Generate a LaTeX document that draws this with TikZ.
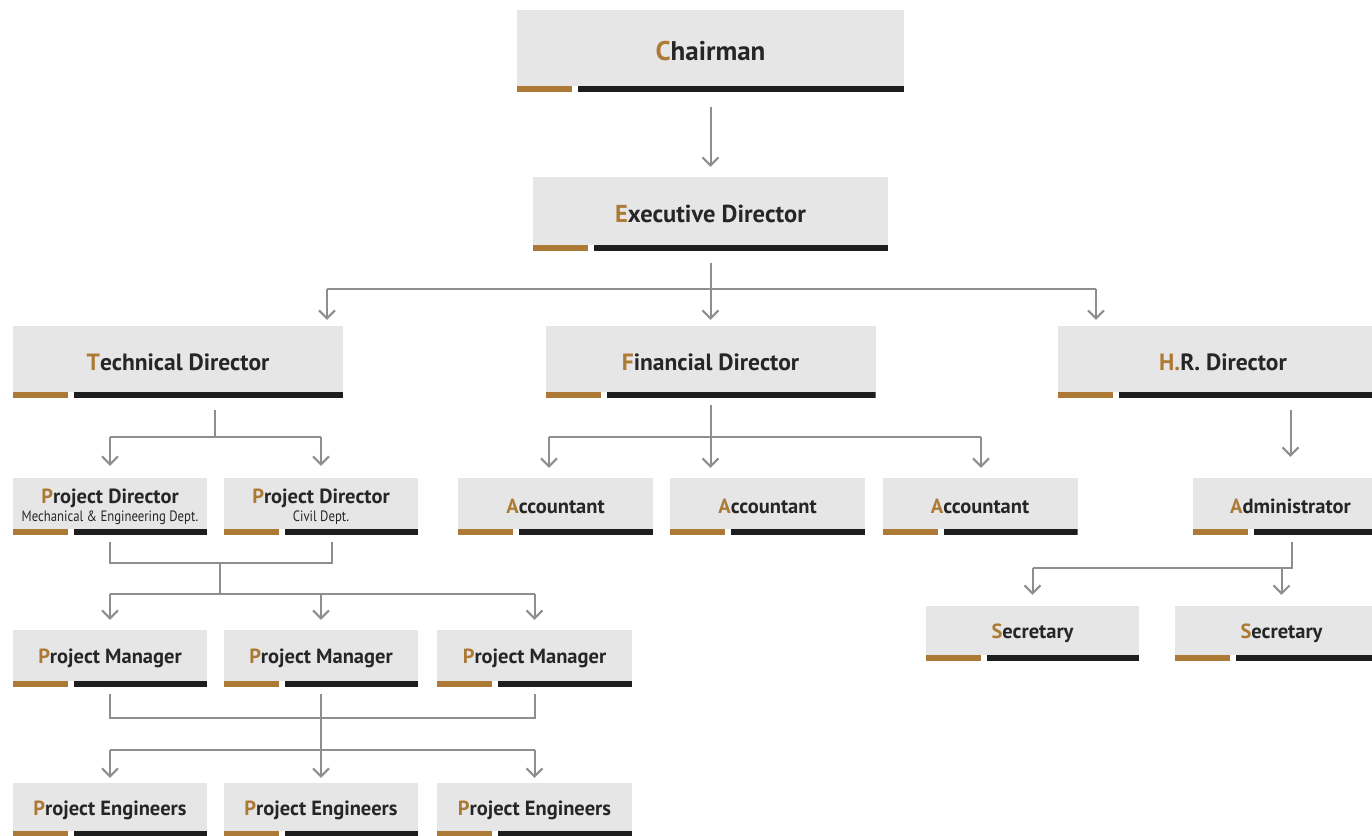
\documentclass[tikz,border=0pt]{standalone}
\usepackage{fontspec}
\setmainfont{PT Sans}
\newfontfamily\deptfont{PT Sans}[FakeStretch=0.85]
\usetikzlibrary{arrows.meta}

\definecolor{boxgray}{HTML}{E6E6E6}
\definecolor{bronze}{HTML}{AD7A35}
\definecolor{barblack}{HTML}{1E1E1E}
\definecolor{wiregray}{HTML}{8E8E8E}
\definecolor{txt}{HTML}{262626}
\newcommand{\ini}[1]{{\color{bronze}#1}}

\begin{document}
\begin{tikzpicture}[x=1pt,y=-1pt,
    post/.style={fill=boxgray, inner sep=0pt, text=txt, align=center,
      path picture={
        \fill[white] (path picture bounding box.south west) rectangle ([yshift=6pt]path picture bounding box.south east);
        \fill[bronze] (path picture bounding box.south west) rectangle ++(55pt,6pt);
        \fill[barblack] ([xshift=61pt]path picture bounding box.south west) rectangle ([yshift=6pt]path picture bounding box.south east);
      }},
    big/.style={font=\fontsize{27}{31}\selectfont\bfseries},
    top/.style={font=\fontsize{24.5}{28}\selectfont\bfseries},
    mid/.style={font=\fontsize{23.5}{27}\selectfont\bfseries},
    small/.style={font=\fontsize{20.5}{23}\selectfont\bfseries},
    wire/.style={draw=wiregray, line width=2pt},
    arr/.style={wire, -{Straight Barb[length=8pt,width=16pt,line width=2pt]}}]

      \clip (0,0) rectangle (1372,835);

      % top levels
      \node[post, big, minimum width=387pt, minimum height=82pt] (chair) at (710.5,51) {\ini{C}hairman};
      \node[post, top, minimum width=355pt, minimum height=74pt] (exec) at (710.5,214) {\ini{E}xecutive Director};

      % directors
      \node[post, mid, minimum width=330pt, minimum height=72pt] (tech) at (178,362) {\ini{T}echnical Director};
      \node[post, mid, minimum width=330pt, minimum height=72pt] (fin) at (710.5,362) {\ini{F}inancial Director};
      \node[post, mid, minimum width=330pt, minimum height=72pt] (hr) at (1223,362) {\ini{H.}R. Director};

      % third row
      \node[post, small, minimum width=194pt, minimum height=57pt] (pd1) at (110,506.5)
        {\ini{P}roject Director\\[-5pt]{\deptfont\mdseries\fontsize{15}{16}\selectfont Mechanical \& Engineering Dept.}};
      \node[post, small, minimum width=194pt, minimum height=57pt] (pd2) at (321,506.5)
        {\ini{P}roject Director\\[-5pt]{\deptfont\mdseries\fontsize{15}{16}\selectfont Civil Dept.}};
      \node[post, small, minimum width=195pt, minimum height=57pt] (acc1) at (555.5,506.5) {\ini{A}ccountant};
      \node[post, small, minimum width=195pt, minimum height=57pt] (acc2) at (767.5,506.5) {\ini{A}ccountant};
      \node[post, small, minimum width=195pt, minimum height=57pt] (acc3) at (980,506.5) {\ini{A}ccountant};
      \node[post, small, minimum width=195pt, minimum height=57pt] (adm) at (1290.5,506.5) {\ini{A}dministrator};

      % secretaries
      \node[post, small, minimum width=213pt, minimum height=55pt] (sec1) at (1032.5,633.5) {\ini{S}ecretary};
      \node[post, small, minimum width=213pt, minimum height=55pt] (sec2) at (1281.5,633.5) {\ini{S}ecretary};

      % managers and engineers
      \node[post, small, minimum width=194pt, minimum height=57pt] (pm1) at (110,658.5) {\ini{P}roject Manager};
      \node[post, small, minimum width=194pt, minimum height=57pt] (pm2) at (321,658.5) {\ini{P}roject Manager};
      \node[post, small, minimum width=195pt, minimum height=57pt] (pm3) at (534.5,658.5) {\ini{P}roject Manager};
      \node[post, small, minimum width=194pt, minimum height=54pt] (pe1) at (110,810) {\ini{P}roject Engineers};
      \node[post, small, minimum width=194pt, minimum height=54pt] (pe2) at (321,810) {\ini{P}roject Engineers};
      \node[post, small, minimum width=195pt, minimum height=54pt] (pe3) at (534.5,810) {\ini{P}roject Engineers};

      % junction points
      \coordinate (ej) at (710.5,289);
      \coordinate (el) at (327,289);
      \coordinate (er) at (1096,289);
      \coordinate (tj) at (215,437);
      \coordinate (fj) at (710.5,437);
      \coordinate (fl) at (549,437);
      \coordinate (fr) at (981,437);
      \coordinate (aj) at (1292,568);
      \coordinate (pr) at (332,563);
      \coordinate (pj) at (220,563);
      \coordinate (mj) at (220,594);
      \coordinate (qj) at (321,718);
      \coordinate (rj) at (321,750);

      \draw[arr] ([yshift=-15pt]chair.south) -- ([yshift=10pt]exec.north);

      \draw[wire] ([yshift=-12pt]exec.south) -- (ej);
      \draw[wire] (el) -- (er);
      \draw[arr] (el) -- ([yshift=6pt]el |- tech.north);
      \draw[arr] (ej) -- ([yshift=6pt]fin.north);
      \draw[arr] (er) -- ([yshift=6pt]er |- hr.north);

      \draw[wire] ([yshift=-12pt]tech.south -| tj) -- (tj);
      \draw[wire] (pd1 |- tj) -- (pd2 |- tj);
      \foreach \n in {pd1,pd2}
        \draw[arr] (\n |- tj) -- ([yshift=12pt]\n.north);

      \draw[wire] ([yshift=-7pt]fin.south) -- (fj);
      \draw[wire] (fl) -- (fr);
      \foreach \c in {fl,fj,fr}
        \draw[arr] (\c) -- ([yshift=10pt]\c |- acc1.north);

      \draw[arr] ([yshift=-12pt]hr.south -| adm) -- ([yshift=21pt]adm.north);
      \draw[wire] ([yshift=-7pt]adm.south -| aj) -- (aj) -- (sec1 |- aj);
      \draw[arr] (sec1 |- aj) -- ([yshift=11pt]sec1.north);
      \draw[arr] (sec2 |- aj) -- ([yshift=11pt]sec2.north);

      \draw[wire] ([yshift=-7pt]pd1.south) |- (pr) -- ([yshift=-7pt]pr |- pd2.south);
      \draw[wire] (pj) -- (mj);
      \draw[wire] (pm1 |- mj) -- (pm3 |- mj);
      \foreach \n in {pm1,pm2,pm3}
        \draw[arr] (\n |- mj) -- ([yshift=10pt]\n.north);

      \draw[wire] ([yshift=-7pt]pm1.south) |- (qj) -| ([yshift=-7pt]pm3.south);
      \draw[arr] ([yshift=-7pt]pm2.south) -- ([yshift=5pt]pe2.north);
      \draw[wire] (pe1 |- rj) -- (pe3 |- rj);
      \draw[arr] (pe1 |- rj) -- ([yshift=5pt]pe1.north);
      \draw[arr] (pe3 |- rj) -- ([yshift=5pt]pe3.north);

\end{tikzpicture}
\end{document}
